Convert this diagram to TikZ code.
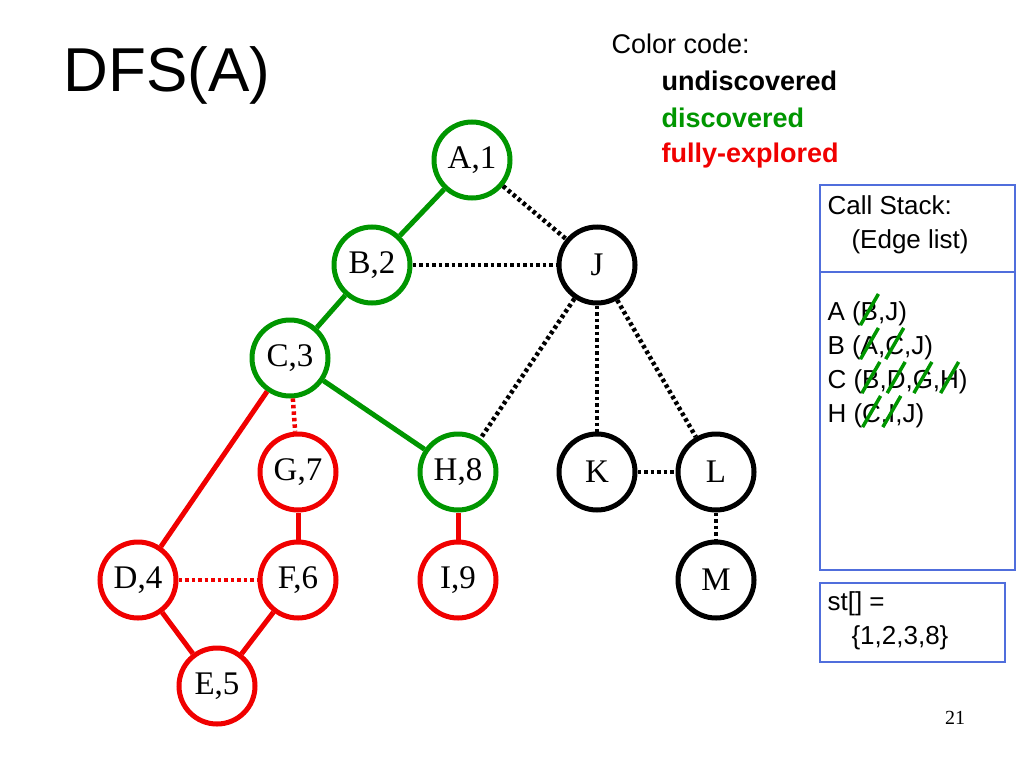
\documentclass[tikz,border=0pt]{standalone}
\usepackage{fontspec}
\setmainfont{Liberation Serif}
\newfontfamily\sans{Liberation Sans}
\definecolor{discgreen}{RGB}{0,150,0}
\definecolor{fullred}{RGB}{240,0,0}
\definecolor{boxblue}{RGB}{80,110,220}
\newcommand\strk[1]{\setbox0\hbox{#1}\rlap{#1}\hbox to \wd0{\hss\smash{\raisebox{0.35em}{\textcolor{discgreen}{\rotatebox[origin=c]{60}{\rule{36pt}{3.5pt}}}}}\hss}}
\begin{document}
\begin{tikzpicture}[x=1pt, y=-1pt,
        vertex/.style={circle, draw, line width=5pt, minimum size=76pt, inner sep=0pt, fill=white, font=\fontsize{33}{35}\selectfont},
        undisc/.style={vertex, draw=black},
        disc/.style={vertex, draw=discgreen},
        full/.style={vertex, draw=fullred},
        tree/.style={line width=5pt},
        back/.style={line width=4.5pt, dash pattern=on 3.5pt off 3pt}
    ]
    \useasboundingbox (0,0) rectangle (1024,768);

    % Title and legend
    \node[anchor=west, font=\sans\fontsize{62}{64}\selectfont] (title) at (60,75) {DFS(A)};
    \node[anchor=west, font=\sans\fontsize{27}{29}\selectfont] (legend) at (608,44) {Color code:};
    \node[anchor=west, font=\sans\bfseries\fontsize{27}{29}\selectfont] (lund) at (658,81) {undiscovered};
    \node[anchor=west, font=\sans\bfseries\fontsize{27}{29}\selectfont, text=discgreen] (ldisc) at (658,118) {discovered};
    \node[anchor=west, font=\sans\bfseries\fontsize{27}{29}\selectfont, text=fullred] (lfull) at (658,156) {fully-explored};

    % Vertices
    \node[disc] (A) at (472,160) {A,1};
    \node[disc] (B) at (372,265) {B,2};
    \node[undisc] (J) at (597,265) {J};
    \node[disc] (C) at (290,358) {C,3};
    \node[full] (G) at (298,472) {G,7};
    \node[disc] (H) at (458,472) {H,8};
    \node[undisc] (K) at (597,472) {K};
    \node[undisc] (L) at (716,472) {L};
    \node[full] (D) at (138,580) {D,4};
    \node[full] (F) at (298,580) {F,6};
    \node[full] (I) at (458,580) {I,9};
    \node[undisc] (M) at (716,580) {M};
    \node[full] (E) at (217,686) {E,5};

    % Edges
    \draw[tree, discgreen] (A) -- (B);
    \draw[tree, discgreen] (B) -- (C);
    \draw[tree, discgreen] (C) -- (H);
    \draw[tree, fullred] (C) -- (D);
    \draw[tree, fullred] (G) -- (F);
    \draw[tree, fullred] (D) -- (E);
    \draw[tree, fullred] (F) -- (E);
    \draw[tree, fullred] (H) -- (I);
    \draw[back, fullred] (C) -- (G);
    \draw[back, fullred] (D) -- (F);
    \draw[back] (A) -- (J);
    \draw[back] (B) -- (J);
    \draw[back] (J) -- (H);
    \draw[back] (J) -- (K);
    \draw[back] (J) -- (L);
    \draw[back] (K) -- (L);
    \draw[back] (L) -- (M);

    % Call stack
    \draw[boxblue, line width=1.2pt] (820,185) rectangle (1015,570);
    \draw[boxblue, line width=1.2pt] (820,272) -- (1015,272);
    \node[anchor=north west, align=left, font=\sans\fontsize{26}{34}\selectfont] (stackhead) at (824,192) {Call Stack:\\\hspace{24pt}(Edge list)};
    \node[anchor=north west, align=left, font=\sans\fontsize{26}{34}\selectfont] (stack) at (824,298)
        {A (\strk{B},J)\\
         B (\strk{A},\strk{C},J)\\
         C (\strk{B},\strk{D},\strk{G},\strk{H})\\
         H (\strk{C},\strk{I},J)};

    % st array
    \draw[boxblue, line width=1.2pt] (820,583) rectangle (1005,662);
    \node[anchor=north west, align=left, font=\sans\fontsize{26}{34}\selectfont] (st) at (824,588) {st[] =\\\hspace{24pt}\{1,2,3,8\}};

    \node[font=\fontsize{20}{22}\selectfont] (page) at (955,718) {21};
\end{tikzpicture}
\end{document}
